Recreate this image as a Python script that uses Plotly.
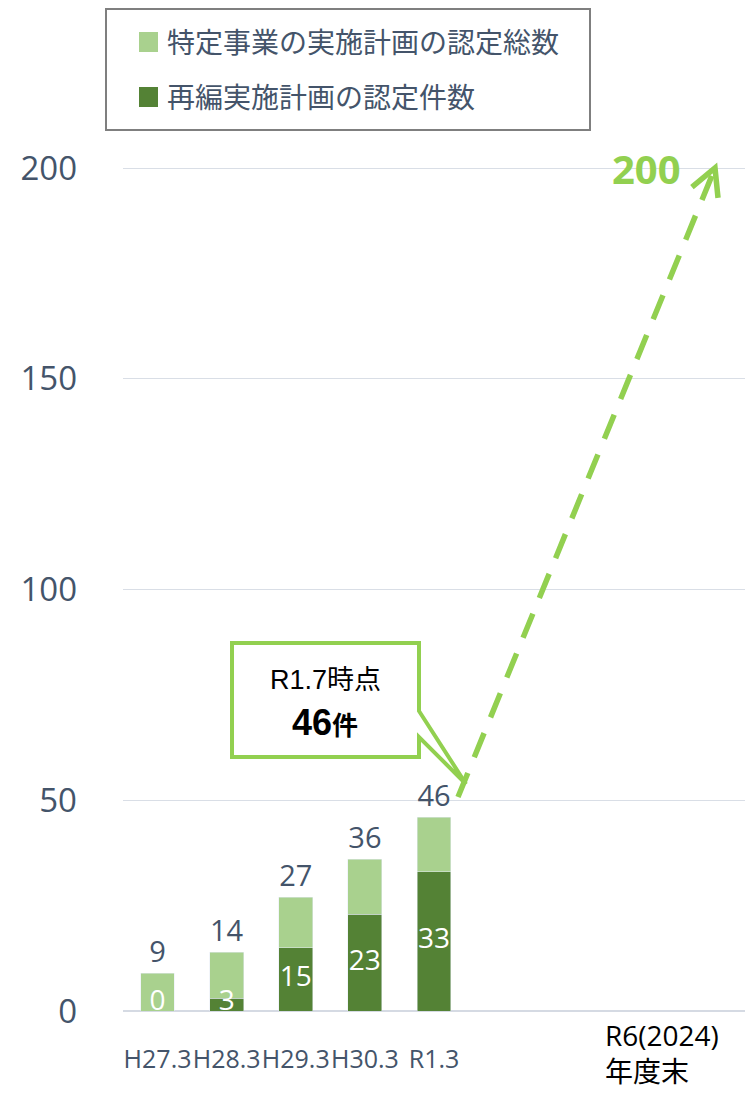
import numpy as np
import plotly.graph_objects as go

# ---------------- data ----------------
categories = ["H27.3", "H28.3", "H29.3", "H30.3", "R1.3"]
total_certified = [9, 14, 27, 36, 46]        # 特定事業の実施計画の認定総数
reorg_certified = [0, 3, 15, 23, 33]         # 再編実施計画の認定件数
target_label = "R6(2024)<br>年度末"
target_value = 200
y_ticks = [0, 50, 100, 150, 200]
legend_names = ["特定事業の実施計画の認定総数", "再編実施計画の認定件数"]

LIGHT = "#a9d18e"
DARK = "#548235"
ARROW = "#92d050"
TXT = "#44546a"
FONT = "Open Sans, Noto Sans CJK JP, sans-serif"

# plot-area geometry (pixels)
W, H = 753, 1094
L, R, T, B = 123, 745, 147, 1011
XR = [-0.5, 8.5]
YR = [0, 205]

def px2x(p):
    return XR[0] + (p - L) / (R - L) * (XR[1] - XR[0])

def py2y(p):
    return YR[0] + (B - p) / (B - T) * (YR[1] - YR[0])

def pxp(p):
    return (p - L) / (R - L)

def pyp(p):
    return (B - p) / (B - T)

xs = list(range(len(categories)))
light_part = [t - r for t, r in zip(total_certified, reorg_certified)]

fig = go.Figure()
fig.add_trace(go.Bar(
    x=xs, y=reorg_certified, marker_color=DARK, width=0.49,
    name=legend_names[1], showlegend=False, hoverinfo="skip",
))
fig.add_trace(go.Bar(
    x=xs, y=light_part, marker_color=LIGHT, width=0.49,
    name=legend_names[0], showlegend=False,
    text=[str(v) for v in total_certified], textposition="outside",
    textfont=dict(family=FONT, size=29, color=TXT), cliponaxis=False,
    hoverinfo="skip",
))
# labels inside the dark bars
fig.add_trace(go.Scatter(
    x=xs, y=[max(v / 2, 2) for v in reorg_certified], mode="text",
    text=[str(v) for v in reorg_certified],
    textfont=dict(family=FONT, size=28, color="white"),
    cliponaxis=True, showlegend=False, hoverinfo="skip",
))

shapes = []
annotations = []

# ---- legend box (manual) ----
shapes.append(dict(type="rect", xref="paper", yref="paper",
                   x0=pxp(106), x1=pxp(590), y0=pyp(130), y1=pyp(9),
                   line=dict(color="#7f7f7f", width=2), fillcolor="white", layer="above"))
for i, (name, col) in enumerate(zip(legend_names, [LIGHT, DARK])):
    cy = 42 + i * 55
    shapes.append(dict(type="rect", xref="paper", yref="paper",
                       x0=pxp(139), x1=pxp(158), y0=pyp(cy + 10), y1=pyp(cy - 10),
                       line=dict(width=0), fillcolor=col, layer="above"))
    annotations.append(dict(xref="paper", yref="paper", x=pxp(165), y=pyp(cy),
                            xanchor="left", yanchor="middle", showarrow=False,
                            text=name, font=dict(family=FONT, size=28, color=TXT)))

# ---- dashed arrow to the target ----
p0 = np.array([458.0, 797.0])
p1 = np.array([715.0, 168.0])
shapes.append(dict(type="line", xref="x", yref="y",
                   x0=px2x(p0[0]), y0=py2y(p0[1]), x1=px2x(p1[0]), y1=py2y(p1[1]),
                   line=dict(color=ARROW, width=5.5, dash="26px,17px"), layer="above"))
u = (p1 - p0) / np.linalg.norm(p1 - p0)
back = -u
arms = []
for ang in (np.radians(28), -np.radians(28)):
    c, s = np.cos(ang), np.sin(ang)
    v = np.array([back[0] * c - back[1] * s, back[0] * s + back[1] * c]) * 30
    arms.append(p1 + v)
path = "M {} {} L {} {} L {} {}".format(
    px2x(arms[0][0]), py2y(arms[0][1]), px2x(p1[0]), py2y(p1[1]),
    px2x(arms[1][0]), py2y(arms[1][1]))
shapes.append(dict(type="path", xref="x", yref="y", path=path,
                   line=dict(color=ARROW, width=5.5), layer="above"))
annotations.append(dict(xref="x", yref="y", x=px2x(646), y=target_value,
                        xanchor="center", yanchor="middle", showarrow=False,
                        text="<b>%d</b>" % target_value,
                        font=dict(family=FONT, size=40, color=ARROW)))

# ---- callout ----
pts = [(232, 643), (419, 643), (419, 711), (466, 784), (419, 737), (419, 757), (232, 757)]
cpath = "M " + " L ".join("{} {}".format(pxp(a), pyp(b)) for a, b in pts) + " Z"
shapes.append(dict(type="path", xref="paper", yref="paper", path=cpath,
                   line=dict(color=ARROW, width=4), fillcolor="white", layer="above"))
CF = "Liberation Sans, Arial, Noto Sans CJK JP, sans-serif"
annotations.append(dict(xref="paper", yref="paper", x=pxp(325), y=pyp(680),
                        xanchor="center", yanchor="middle", showarrow=False,
                        text="R1.7時点", font=dict(family=CF, size=27, color="black")))
annotations.append(dict(xref="paper", yref="paper", x=pxp(325), y=pyp(722),
                        xanchor="center", yanchor="middle", showarrow=False,
                        text="<b><span style='font-size:36px'>46</span>件</b>",
                        font=dict(family=CF, size=26, color="black")))

# ---- target category label ----
annotations.append(dict(xref="x", yref="paper", x=px2x(603), y=pyp(1053),
                        xanchor="left", yanchor="middle", showarrow=False, align="left",
                        text=target_label,
                        font=dict(family=FONT, size=28, color="black")))

fig.update_layout(
    width=W, height=H,
    margin=dict(l=L, r=W - R, t=T, b=H - B, pad=0),
    plot_bgcolor="white", paper_bgcolor="white",
    barmode="stack", bargap=0.5,
    showlegend=False,
    shapes=shapes, annotations=annotations,
    xaxis=dict(range=XR, tickmode="array", tickvals=xs, ticktext=categories,
               showgrid=False, zeroline=False, showline=False, ticks="",
               tickangle=0, automargin=False,
               tickfont=dict(family=FONT, size=25, color=TXT),
               ticklabelstandoff=31, fixedrange=True),
    yaxis=dict(range=YR, tickmode="array", tickvals=y_ticks,
               showgrid=True, gridcolor="#d9dee6", gridwidth=1,
               zeroline=True, zerolinecolor="#d5dae3", zerolinewidth=2,
               showline=False, ticks="", automargin=False,
               tickfont=dict(family=FONT, size=33, color=TXT),
               ticklabelstandoff=45, fixedrange=True),
)

fig.write_html("out.html", config={"displayModeBar": False},
               post_script="document.body.style.margin='0';document.body.style.overflow='hidden';")
